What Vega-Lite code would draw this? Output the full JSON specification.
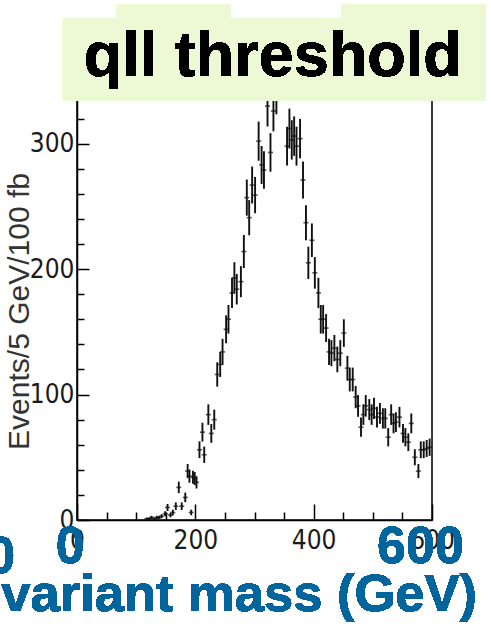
{
  "$schema": "https://vega.github.io/schema/vega-lite/v6.json",
  "autosize": "none",
  "width": 355,
  "height": 420,
  "padding": {"left": 77, "top": 100, "right": 59, "bottom": 104},
  "background": "#ffffff",
  "config": {
    "view": {"stroke": "#000000", "strokeWidth": 1.5},
    "axis": {"grid": false, "domainColor": "#000000", "domainWidth": 1.5, "tickColor": "#000000", "tickWidth": 1.5, "labelColor": "#1a1a1a", "labelFont": "Liberation Sans Narrow, DejaVu Sans Condensed, Liberation Sans", "labelFontSize": 26, "labelOverlap": false}
  },
  "data": {"values": [
    {"m": 118, "n": 1, "e": 1.0}, {"m": 122, "n": 1, "e": 1.0}, {"m": 126, "n": 2, "e": 1.3},
    {"m": 131, "n": 1, "e": 1.0}, {"m": 135, "n": 2, "e": 1.3}, {"m": 139, "n": 2, "e": 1.3},
    {"m": 143, "n": 3, "e": 1.6}, {"m": 149, "n": 5, "e": 2.0}, {"m": 153, "n": 10, "e": 2.8},
    {"m": 158, "n": 4, "e": 1.8}, {"m": 162, "n": 6, "e": 2.2}, {"m": 167, "n": 11, "e": 3.0},
    {"m": 172, "n": 26, "e": 4.6}, {"m": 177, "n": 11, "e": 3.0}, {"m": 183, "n": 18, "e": 3.8},
    {"m": 187, "n": 39, "e": 5.6}, {"m": 190, "n": 35, "e": 5.3}, {"m": 193, "n": 6, "e": 2.2},
    {"m": 196, "n": 34, "e": 5.2}, {"m": 199, "n": 33, "e": 5.2}, {"m": 202, "n": 30, "e": 4.9},
    {"m": 207, "n": 56, "e": 6.7}, {"m": 212, "n": 70, "e": 7.5}, {"m": 215, "n": 52, "e": 6.5},
    {"m": 222, "n": 84, "e": 8.2}, {"m": 227, "n": 69, "e": 7.5}, {"m": 232, "n": 80, "e": 8.0},
    {"m": 237, "n": 116, "e": 9.7}, {"m": 242, "n": 124, "e": 10.0}, {"m": 246, "n": 134, "e": 10.4},
    {"m": 252, "n": 152, "e": 11.1}, {"m": 256, "n": 160, "e": 11.4}, {"m": 262, "n": 181, "e": 12.1},
    {"m": 266, "n": 193, "e": 12.5}, {"m": 270, "n": 184, "e": 12.2}, {"m": 277, "n": 190, "e": 12.4},
    {"m": 282, "n": 214, "e": 13.2}, {"m": 287, "n": 257, "e": 14.4}, {"m": 291, "n": 241, "e": 14.0},
    {"m": 296, "n": 267, "e": 14.7}, {"m": 301, "n": 259, "e": 14.5}, {"m": 307, "n": 302, "e": 15.6},
    {"m": 312, "n": 283, "e": 15.1}, {"m": 316, "n": 279, "e": 15.0}, {"m": 322, "n": 330, "e": 16.3},
    {"m": 327, "n": 293, "e": 15.4}, {"m": 332, "n": 326, "e": 16.2}, {"m": 337, "n": 340, "e": 16.6},
    {"m": 342, "n": 360, "e": 17.1}, {"m": 347, "n": 362, "e": 17.1}, {"m": 352, "n": 355, "e": 17.0},
    {"m": 355, "n": 298, "e": 15.5}, {"m": 359, "n": 312, "e": 15.9}, {"m": 363, "n": 303, "e": 15.7},
    {"m": 367, "n": 306, "e": 15.7}, {"m": 371, "n": 298, "e": 15.5}, {"m": 377, "n": 304, "e": 15.7},
    {"m": 382, "n": 271, "e": 14.8}, {"m": 387, "n": 237, "e": 13.9}, {"m": 391, "n": 205, "e": 12.9},
    {"m": 397, "n": 223, "e": 13.4}, {"m": 402, "n": 197, "e": 12.6}, {"m": 408, "n": 181, "e": 12.1},
    {"m": 412, "n": 160, "e": 11.4}, {"m": 416, "n": 160, "e": 11.4}, {"m": 421, "n": 153, "e": 11.1},
    {"m": 426, "n": 134, "e": 10.4}, {"m": 430, "n": 133, "e": 10.4}, {"m": 435, "n": 137, "e": 10.5},
    {"m": 440, "n": 128, "e": 10.2}, {"m": 445, "n": 133, "e": 10.4}, {"m": 451, "n": 149, "e": 11.0},
    {"m": 457, "n": 121, "e": 9.9}, {"m": 461, "n": 112, "e": 9.5}, {"m": 466, "n": 112, "e": 9.5},
    {"m": 471, "n": 98, "e": 8.9}, {"m": 475, "n": 91, "e": 8.6}, {"m": 480, "n": 74, "e": 7.7},
    {"m": 484, "n": 84, "e": 8.2}, {"m": 488, "n": 91, "e": 8.6}, {"m": 494, "n": 88, "e": 8.4},
    {"m": 498, "n": 84, "e": 8.2}, {"m": 502, "n": 89, "e": 8.5}, {"m": 507, "n": 82, "e": 8.2},
    {"m": 512, "n": 85, "e": 8.3}, {"m": 517, "n": 81, "e": 8.1}, {"m": 521, "n": 81, "e": 8.1},
    {"m": 526, "n": 66, "e": 7.3}, {"m": 531, "n": 84, "e": 8.2}, {"m": 535, "n": 77, "e": 7.9},
    {"m": 539, "n": 78, "e": 7.9}, {"m": 545, "n": 82, "e": 8.2}, {"m": 551, "n": 69, "e": 7.5},
    {"m": 555, "n": 66, "e": 7.3}, {"m": 560, "n": 62, "e": 7.1}, {"m": 565, "n": 77, "e": 7.9},
    {"m": 571, "n": 50, "e": 6.4}, {"m": 577, "n": 39, "e": 5.6}, {"m": 581, "n": 56, "e": 6.7},
    {"m": 586, "n": 56, "e": 6.7}, {"m": 591, "n": 57, "e": 6.8}, {"m": 596, "n": 58, "e": 6.9}
  ]},
  "encoding": {
    "x": {"field": "m", "type": "quantitative", "scale": {"domain": [0, 600], "nice": false, "zero": false},
      "axis": {"values": [0, 50, 100, 150, 200, 250, 300, 350, 400, 450, 500, 550, 600], "title": null,
        "labelExpr": "datum.value % 200 === 0 ? datum.label : ''",
        "labelFontSize": {"condition": {"test": "datum.value % 200 === 0", "value": 26}, "value": 0},
        "tickSize": {"condition": {"test": "datum.value % 200 === 0", "value": -16}, "value": -8},
        "labelPadding": 23, "labelFlush": false, "labelOverlap": false}},
    "y": {"field": "n", "type": "quantitative", "scale": {"domain": [0, 334.8], "nice": false},
      "axis": {"values": [0, 20, 40, 60, 80, 100, 120, 140, 160, 180, 200, 220, 240, 260, 280, 300, 320],
        "labelExpr": "datum.value % 100 === 0 ? datum.label : ''",
        "labelFontSize": {"condition": {"test": "datum.value % 100 === 0", "value": 26}, "value": 0},
        "tickSize": {"condition": {"test": "datum.value % 100 === 0", "value": -12}, "value": -7},
        "labelPadding": 15, "labelFlush": false, "labelOverlap": false,
        "title": "Events/5 GeV/100 fb", "titleFont": "Liberation Sans", "titleFontWeight": "normal", "titleFontSize": 30, "titleColor": "#333333",
        "titleX": -49, "titleY": 211, "titleAngle": 270, "titleAlign": "center", "titleBaseline": "alphabetic"}}
  },
  "layer": [
    {
      "mark": {"type": "errorbar", "ticks": false, "clip": true, "color": "#111111", "thickness": 1.9},
      "encoding": {"yError": {"field": "e"}}
    },
    {
      "mark": {"type": "tick", "orient": "horizontal", "size": 5, "thickness": 1.6, "clip": true, "color": "#111111"}
    },
    {
      "mark": {"type": "rect", "color": "#EDF8D4"},
      "encoding": {"x": {"datum": -23.7}, "x2": {"datum": 691}, "y": {"datum": 334}, "y2": {"datum": 400.2}}
    },
    {
      "mark": {"type": "rect", "color": "#EDF8D4"},
      "encoding": {"x": {"datum": 65.9}, "x2": {"datum": 260.3}, "y": {"datum": 334}, "y2": {"datum": 411.1}}
    },
    {
      "mark": {"type": "rect", "color": "#EDF8D4"},
      "encoding": {"x": {"datum": 446.2}, "x2": {"datum": 691}, "y": {"datum": 334}, "y2": {"datum": 411.1}}
    },
    {
      "mark": {"type": "text", "font": "Liberation Sans", "fontWeight": "bold", "fontSize": 63, "color": "#000000", "align": "center", "baseline": "alphabetic"},
      "encoding": {"x": {"datum": 331}, "y": {"datum": 354}, "text": {"value": "qll threshold"}}
    },
    {
      "mark": {"type": "text", "font": "Liberation Sans", "fontWeight": "bold", "fontSize": 52, "color": "#04659D", "align": "center", "baseline": "alphabetic"},
      "encoding": {"x": {"datum": -11.5}, "y": {"datum": -34.3}, "text": {"value": "0"}}
    },
    {
      "mark": {"type": "text", "font": "Liberation Sans", "fontWeight": "bold", "fontSize": 52, "color": "#04659D", "align": "center", "baseline": "alphabetic"},
      "encoding": {"x": {"datum": -129}, "y": {"datum": -42.3}, "text": {"value": "0"}}
    },
    {
      "mark": {"type": "text", "font": "Liberation Sans", "fontWeight": "bold", "fontSize": 52, "color": "#04659D", "align": "center", "baseline": "alphabetic"},
      "encoding": {"x": {"datum": 580.5}, "y": {"datum": -34.3}, "text": {"value": "600"}}
    },
    {
      "mark": {"type": "text", "font": "Liberation Sans", "fontWeight": "bold", "fontSize": 52.5, "color": "#04659D", "align": "right", "baseline": "alphabetic"},
      "encoding": {"x": {"datum": 676}, "y": {"datum": -72.5}, "text": {"value": "Invariant mass (GeV)"}}
    }
  ]
}
